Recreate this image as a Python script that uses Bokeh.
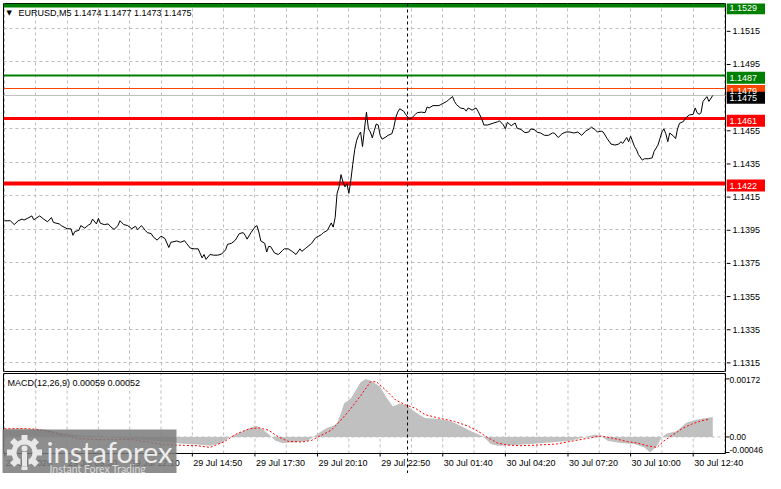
import math
from bokeh.plotting import figure
from bokeh.models import FixedTicker, Span, Label, Range1d
from bokeh.layouts import column, row
from bokeh.embed import file_html
from bokeh.resources import INLINE
from bokeh.core.properties import value

# ---------------- data ----------------
symbol_header = "EURUSD,M5  1.1474 1.1477 1.1473 1.1475"
macd_header = "MACD(12,26,9) 0.00059 0.00052"

price_bars = [0, 3, 5, 7, 9, 10, 12, 14, 15, 16, 18, 20, 22, 24, 25, 28, 29, 32, 34, 35, 36, 38, 39, 41, 43, 44, 45, 47, 48, 49,
              51, 53, 54, 56, 58, 59, 61, 63, 65, 67, 68, 70, 72, 73, 75, 76, 78, 80, 82, 84, 85, 88, 90, 92, 93, 95, 97,
              99, 101, 102, 103, 105, 107, 109, 111, 113, 114, 116, 118, 120, 122, 123, 124, 126, 128, 129, 130, 131, 133, 134,
              135, 136, 138, 140, 142, 143, 145, 147, 149, 151, 152, 154, 157, 159, 162, 163, 165, 167, 168, 169,
              170, 171, 172, 173, 174, 175, 176, 177, 178, 179, 180, 181, 182, 183, 184, 185, 186, 187, 188, 189, 190, 191, 192,
              193, 195, 196, 198, 199, 200, 201, 202, 204, 205, 207, 208, 210, 211, 213, 215, 216, 217, 219, 222, 223, 226, 227,
              229, 230, 231, 233, 235, 236, 237, 239, 241, 242, 244, 245, 247, 250, 252, 253, 255, 256, 257, 259, 261, 262, 264, 266,
              268, 269, 271, 272, 274, 276, 278, 280, 281, 283, 285, 287, 289, 291, 293, 295, 297, 299, 300, 302, 303, 305, 306,
              308, 310, 312, 314, 315, 316, 318, 319, 320, 322, 323, 324, 326, 327, 329, 331, 332, 334, 335, 336, 337, 338, 339,
              340, 342, 343, 344, 345, 347, 348, 350, 352, 353, 354, 355, 356, 357, 359, 360, 362]
price_vals = [1.14000, 1.14000, 1.13977, 1.14000, 1.14010, 1.14004, 1.14016, 1.14029, 1.14006, 1.14014, 1.14029, 1.14010, 1.13994, 1.14019, 1.13990, 1.13981, 1.13971, 1.13952, 1.13952, 1.13913, 1.13936, 1.13942, 1.13971, 1.13956, 1.13975, 1.13981, 1.14010, 1.13981, 1.14014, 1.13985,
              1.13977, 1.13981, 1.13967, 1.13948, 1.13971, 1.14000, 1.13977, 1.13971, 1.13952, 1.13967, 1.13946, 1.13971, 1.13942, 1.13929, 1.13923, 1.13904, 1.13884, 1.13908, 1.13894, 1.13840, 1.13871, 1.13879, 1.13871, 1.13881, 1.13865, 1.13836, 1.13832,
              1.13832, 1.13778, 1.13798, 1.13769, 1.13798, 1.13794, 1.13794, 1.13801, 1.13826, 1.13859, 1.13865, 1.13884, 1.13923, 1.13929, 1.13913, 1.13890, 1.13929, 1.13962, 1.13971, 1.13933, 1.13879, 1.13865, 1.13813,
              1.13846, 1.13846, 1.13807, 1.13798, 1.13821, 1.13832, 1.13832, 1.13817, 1.13798, 1.13832, 1.13817, 1.13836, 1.13865, 1.13898, 1.13917, 1.13929, 1.13942, 1.13987, 1.13962, 1.14019,
              1.14164, 1.14203, 1.14276, 1.14232, 1.14203, 1.14222, 1.14164, 1.14241, 1.14338, 1.14425, 1.14482, 1.14511, 1.14531, 1.14444, 1.14550, 1.14650, 1.14550, 1.14531, 1.14496, 1.14540, 1.14579, 1.14573, 1.14511,
              1.14488, 1.14502, 1.14511, 1.14521, 1.14560, 1.14618, 1.14650, 1.14670, 1.14656, 1.14637, 1.14608, 1.14614, 1.14637, 1.14647, 1.14650, 1.14647, 1.14681, 1.14675, 1.14689, 1.14689, 1.14695, 1.14714, 1.14724,
              1.14743, 1.14714, 1.14695, 1.14675, 1.14670, 1.14656, 1.14675, 1.14662, 1.14675, 1.14656, 1.14608, 1.14573, 1.14573, 1.14585, 1.14592, 1.14598, 1.14573, 1.14550, 1.14589, 1.14569, 1.14585, 1.14554, 1.14546, 1.14527,
              1.14531, 1.14550, 1.14544, 1.14531, 1.14525, 1.14511, 1.14511, 1.14525, 1.14525, 1.14498, 1.14521, 1.14531, 1.14531, 1.14525, 1.14531, 1.14511, 1.14536, 1.14550, 1.14560, 1.14544, 1.14531, 1.14536, 1.14531,
              1.14492, 1.14459, 1.14453, 1.14459, 1.14473, 1.14463, 1.14498, 1.14473, 1.14506, 1.14444, 1.14425, 1.14396, 1.14363, 1.14371, 1.14371, 1.14376, 1.14415, 1.14453, 1.14492, 1.14531, 1.14550, 1.14521, 1.14473,
              1.14525, 1.14506, 1.14492, 1.14550, 1.14583, 1.14594, 1.14614, 1.14633, 1.14637, 1.14675, 1.14646, 1.14637, 1.14646, 1.14714, 1.14743, 1.14714, 1.14750]

hist_bars = [0, 8.5, 20, 23.5, 28.5, 38.5, 48.5, 58.5, 73.5, 83.5, 91, 98.5, 105, 111, 115, 118.5, 122, 128.5, 132, 135, 138.5, 142,
             148.5, 155, 158.5, 162, 165, 168.5, 170, 172, 173.5, 177, 179.5, 182, 184.5, 187, 190, 192, 195, 198.5, 202, 205,
             208.5, 212, 215, 222, 228.5, 233.5, 238.5, 242, 245, 248.5, 252, 263.5, 275, 288.5, 297, 302, 305, 308.5, 315, 322,
             327, 330, 333.5, 336, 338.5, 343.5, 348.5, 353.5, 358.5, 362]
hist_vals = [0.00024, 0.00025, 0.00023, 0.00020, 0.00012, 0.00005, 0.00002, -0.00004, -0.00010, -0.00015, -0.00020, -0.00022, -0.00026, -0.00018, 0.00000, 0.00008, 0.00017, 0.00034, 0.00022, 0.00008, -0.00011, -0.00018,
             -0.00016, -0.00011, 0.00003, 0.00017, 0.00027, 0.00034, 0.00042, 0.00070, 0.00099, 0.00114, 0.00138, 0.00162, 0.00172, 0.00167, 0.00157, 0.00148, 0.00119, 0.00090, 0.00099, 0.00095,
             0.00080, 0.00066, 0.00056, 0.00053, 0.00046, 0.00032, 0.00017, 0.00008, 0.00000, -0.00021, -0.00026, -0.00023, -0.00018, -0.00012, 0.00000, 0.00007, 0.00002, -0.00012, -0.00018, -0.00021,
             -0.00031, -0.00046, -0.00026, 0.00000, 0.00010, 0.00017, 0.00042, 0.00051, 0.00056, 0.00059]

signal_bars = [0, 8.5, 16, 23.5, 32, 37, 48.5, 65, 73.5, 82, 92, 98.5, 105, 112, 118.5, 125, 130, 135, 140, 145, 152, 157, 162, 167,
               172, 177, 182, 187, 190, 195, 200, 205, 210, 215, 222, 230, 237, 242, 247, 252, 257, 263.5, 272, 282, 288.5, 295,
               305, 312, 318.5, 323.5, 328.5, 333.5, 337, 342, 347, 352, 357, 360]
signal_vals = [0.00024, 0.00025, 0.00023, 0.00015, 0.00005, -0.00005, -0.00008, -0.00008, -0.00015, -0.00023, -0.00025, -0.00026, -0.00031, -0.00015, 0.00009, 0.00024, 0.00027, 0.00020, 0.00000, -0.00013, -0.00015, -0.00010, 0.00005, 0.00020,
               0.00050, 0.00084, 0.00122, 0.00163, 0.00164, 0.00138, 0.00109, 0.00095, 0.00085, 0.00066, 0.00056, 0.00046, 0.00032, 0.00017, -0.00002, -0.00018, -0.00024, -0.00026, -0.00024, -0.00021, -0.00014, -0.00007,
               0.00003, -0.00005, -0.00014, -0.00018, -0.00026, -0.00031, -0.00012, 0.00008, 0.00027, 0.00040, 0.00049, 0.00052]

level_values = [1.1529, 1.1487, 1.1479, 1.1475, 1.1461, 1.1422]
price_ticks = [1.1315, 1.1335, 1.1355, 1.1375, 1.1395, 1.1415, 1.1435, 1.1455, 1.1475, 1.1495, 1.1515]
macd_ticks = [0.00172, 0.0, -0.00046]
macd_tick_labels = ["0.00172", "0.00", "-0.00046"]
separator_bar = 206
time_tick_bars = [0, 32, 64, 96, 128, 160, 192, 224, 256, 288, 320, 352]
time_tick_labels = ["29 Jul 2026", "29 Jul 09:30", "29 Jul 12:10", "29 Jul 14:50", "29 Jul 17:30", "29 Jul 20:10",
                    "29 Jul 22:50", "30 Jul 01:40", "30 Jul 04:20", "30 Jul 07:20", "30 Jul 10:00", "30 Jul 12:40"]
logo_title = "instaforex"
logo_subtitle = "Instant Forex Trading"

# ---------------- styles / layout ----------------
FONT = "Liberation Sans"
FS = "9px"
level_colors = ["#008000", "#008000", "#FF4500", "#C0C0C0", "#FF0000", "#FF0000"]
level_widths = [4, 2, 1, 1, 3, 4]
tag_colors = ["#008000", "#008000", "#FF4500", "#000000", "#FF0000", "#FF0000"]
GRID = "#BDBDBD"
LOGO_FG = "#e8e8e8"

W = 765
FRAME_W = 722
AXIS_W = W - 3 - FRAME_W - 1
MAIN_H, MAIN_TOP = 372, 3
MAIN_FH = MAIN_H - MAIN_TOP - 1
PANEL_H = 80          # MACD panel height (px)
STRIP_H = 20          # time-label strip (px)
MACD_H = 1 + PANEL_H + STRIP_H
X0, X1 = -0.5, 368.5
grid_bars = list(range(0, 369, 16))
price_lo, price_hi = 1.13098, 1.15300
macd_lo, macd_hi = -0.00049, 0.00188


def base_fig(**kw):
    f = figure(output_backend="svg", toolbar_location=None, x_axis_location=None, y_axis_location=None, **kw)
    f.background_fill_color = "white"
    f.border_fill_color = "white"
    f.outline_line_color = None
    f.xgrid.grid_line_color = None
    f.ygrid.grid_line_color = None
    return f


# ---------------- main price panel ----------------
p = base_fig(width=3 + FRAME_W + 1, height=MAIN_H, x_range=Range1d(X0, X1), y_range=Range1d(price_lo, price_hi),
             min_border_left=3, min_border_right=1, min_border_top=MAIN_TOP, min_border_bottom=1)
p.outline_line_color = "black"
p.xgrid.ticker = FixedTicker(ticks=grid_bars)
p.xgrid.grid_line_color = GRID
p.xgrid.grid_line_dash = "3 3"
p.ygrid.ticker = FixedTicker(ticks=price_ticks)
p.ygrid.grid_line_color = GRID
p.ygrid.grid_line_dash = "3 3"
p.add_layout(Span(location=separator_bar, dimension="height", line_color="black", line_dash="3 3", line_width=1))
p.hspan(y=level_values, line_color=level_colors, line_width=level_widths)
p.line(price_bars, price_vals, line_color="black", line_width=1)
p.add_layout(Label(x=3, y=MAIN_FH - 9, x_units="screen", y_units="screen", text="\u25bc",
                   text_font="DejaVu Sans", text_font_size="7px", text_baseline="middle", text_color="black"))
p.add_layout(Label(x=15, y=MAIN_FH - 9, x_units="screen", y_units="screen", text=symbol_header,
                   text_font=FONT, text_font_size=FS, text_baseline="middle", text_color="black"))

# price scale strip (right)
px_per_price = MAIN_FH / (price_hi - price_lo)
pr = base_fig(width=AXIS_W, height=MAIN_H, x_range=Range1d(0, AXIS_W),
              y_range=Range1d(price_lo, price_hi + MAIN_TOP / px_per_price),
              min_border_left=0, min_border_right=0, min_border_top=0, min_border_bottom=1)
pr.segment(x0=0, x1=4, y0=price_ticks, y1=price_ticks, line_color="black", line_width=1)
pr.text(x=6, y=price_ticks, text=["%.4f" % t for t in price_ticks], text_font=value(FONT),
        text_font_size=FS, text_baseline="middle", text_color="black")
pr.rect(x=AXIS_W / 2, y=level_values, width=AXIS_W, height=12, height_units="screen",
        fill_color=tag_colors, line_color=None)
pr.text(x=3, y=level_values, text=["%.4f" % v for v in level_values], text_font=value(FONT),
        text_font_size=FS, text_baseline="middle", text_color="white")

# ---------------- MACD panel + time strip (one frame) ----------------
bpp = (X1 - X0) / FRAME_W                 # bars per pixel
ppu = PANEL_H / (macd_hi - macd_lo)       # pixels per MACD unit
MW = W - 2
m = base_fig(width=W, height=MACD_H,
             x_range=Range1d(X0 - bpp, X0 - bpp + MW * bpp),
             y_range=Range1d(macd_lo - STRIP_H / ppu, macd_hi + 1 / ppu),
             min_border_left=2, min_border_right=0, min_border_top=0, min_border_bottom=0)
# grid
m.segment(x0=grid_bars, x1=grid_bars, y0=macd_lo, y1=macd_hi, line_color=GRID, line_dash="3 3")
m.segment(x0=[X0], x1=[X1], y0=[0], y1=[0], line_color=GRID, line_dash="3 3")
# data
m.varea(x=hist_bars, y1=0, y2=hist_vals, fill_color="#C0C0C0")
m.line(signal_bars, signal_vals, line_color="#FF0000", line_dash="2 2", line_width=1)
# separator & frame
m.segment(x0=[separator_bar], x1=[separator_bar], y0=[macd_lo - STRIP_H / ppu], y1=[macd_hi],
          line_color="black", line_dash="3 3")
m.quad(left=[X0], right=[X1], bottom=[macd_lo], top=[macd_hi], fill_color=None, line_color="black")
# right scale
m.ray(x=X1, y=macd_ticks, length=4, length_units="screen", angle=0, line_color="black")
m.text(x=X1, y=macd_ticks, text=macd_tick_labels, x_offset=4, y_offset=[1, 0, -2], text_font=value(FONT),
       text_font_size="8.5px", text_baseline="middle", text_color="black")
# time scale
m.ray(x=time_tick_bars, y=macd_lo, length=3, length_units="screen", angle=-math.pi / 2, line_color="black")
m.text(x=time_tick_bars, y=macd_lo, y_offset=9, x_offset=1, text=time_tick_labels, text_font=value(FONT),
       text_font_size=FS, text_baseline="middle", text_align="left", text_color="black")
# header
m.add_layout(Label(x=5, y=STRIP_H + PANEL_H - 9, x_units="screen", y_units="screen", text=macd_header,
                   text_font=FONT, text_font_size=FS, text_baseline="middle", text_color="black"))

# watermark logo (pixel coordinates: 0,0 = panel's bottom-left corner)
m.extra_x_ranges = {"px": Range1d(-1, MW - 1)}
m.extra_y_ranges = {"px": Range1d(-STRIP_H, PANEL_H + 1)}
lk = dict(x_range_name="px", y_range_name="px", level="overlay")
m.quad(left=[-1], right=[173], bottom=[-STRIP_H], top=[24], fill_color="#7a7a7a", fill_alpha=0.85,
       line_color=None, **lk)
# gear emblem drawn with shapes
gcx, gcy = 21, 1
tooth_ang = [k * math.pi / 4 for k in range(8)]
m.rect(x=[gcx + 14.5 * math.cos(a) for a in tooth_ang], y=[gcy + 14.5 * math.sin(a) for a in tooth_ang],
       width=6, height=6, angle=tooth_ang, fill_color=LOGO_FG, line_color=None, **lk)
m.annulus(x=[gcx], y=[gcy], inner_radius=8, outer_radius=13, fill_color=LOGO_FG, line_color=None, **lk)
m.quad(left=[gcx - 4], right=[gcx + 4], bottom=[gcy - 14], top=[gcy - 7], fill_color="#7a7a7a",
       line_color=None, **lk)
m.circle(x=[gcx], y=[gcy + 4], radius=3, fill_color=LOGO_FG, line_color=None, **lk)
m.quad(left=[gcx - 2.5], right=[gcx + 2.5], bottom=[gcy - 14], top=[gcy + 0.5], fill_color=LOGO_FG,
       line_color=None, **lk)
m.text(x=[43], y=[2], text=[logo_title], text_font=value("Lato"), text_font_size="29px",
       text_color="#ececec", text_baseline="alphabetic", **lk)
m.text(x=[46], y=[-15], text=[logo_subtitle], text_font=value("Lato"), text_font_size="10.5px",
       text_color="#dcdcdc", text_baseline="alphabetic", **lk)

layout = column(row(p, pr, spacing=0), m, spacing=0)
open("out.html", "w").write(file_html(layout, INLINE))
